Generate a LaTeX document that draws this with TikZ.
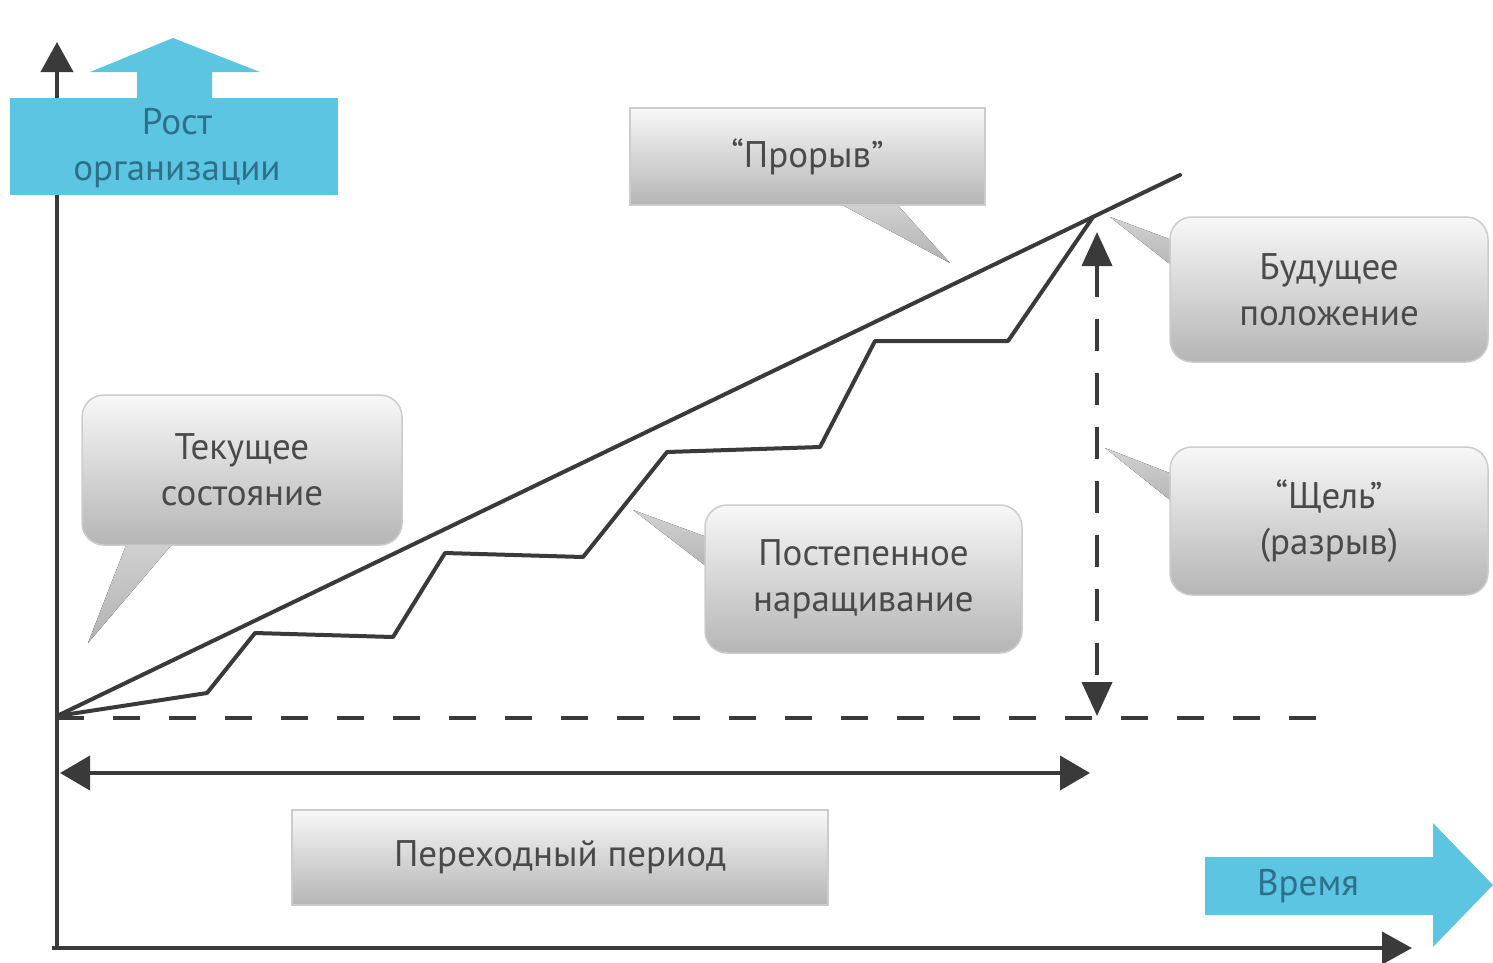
\documentclass[tikz,border=0pt]{standalone}
\usepackage{fontspec}
\setmainfont{PT Sans}
\usetikzlibrary{arrows.meta}
\definecolor{lineg}{HTML}{3A3A3A}
\definecolor{skyb}{HTML}{5CC6E2}
\definecolor{tealt}{HTML}{2E6F8C}
\definecolor{boxtxt}{HTML}{4A4A4A}
\tikzset{
  callbox/.style={draw=gray!40, line width=1.5pt, rounded corners=22pt, top color=gray!6, bottom color=gray!58,
    text=boxtxt, align=center, font=\fontsize{37}{46}\selectfont, inner sep=0pt},
  flatbox/.style={callbox, rounded corners=0pt},
  tailfill/.style={top color=gray!35, bottom color=gray!60, draw=none},
  axisline/.style={draw=lineg, line width=4pt, -{Triangle[length=30pt,width=32pt]}},
  trendline/.style={draw=lineg, line width=4pt, line join=round, line cap=round},
  dashln/.style={draw=lineg, line width=4pt, dash pattern=on 27pt off 29pt},
  vdashln/.style={draw=lineg, line width=4pt, dash pattern=on 32pt off 22pt},
  bluearr/.style={fill=skyb, draw=none},
  bluetxt/.style={text=tealt, align=center, font=\fontsize{37}{46}\selectfont, inner sep=0pt},
  dblarrow/.style={draw=lineg, line width=4pt, {Triangle[length=30pt,width=34pt]}-{Triangle[length=30pt,width=34pt]}}
}
\begin{document}
\begin{tikzpicture}[x=1pt,y=-1pt]
\useasboundingbox (0,0) rectangle (1493,962);

% axes
\coordinate (O) at (57,948);
\coordinate (ytop) at (57,42);
\coordinate (xend) at (1412,948);
\draw[axisline] (57,950) -- (ytop);
\draw[axisline] (52,948) -- (xend);

% blue "growth" arrow
\fill[bluearr] (137,100) -- (137,72) -- (90,72) -- (173,38) -- (260,72) -- (212,72) -- (212,100) -- cycle;
\node[bluearr, minimum width=328pt, minimum height=97pt, inner sep=0pt] (growthbox) at (174,146.5) {};
\node[bluetxt] (growthtxt) at (177,148) {Рост\\организации};

% blue "time" arrow
\fill[bluearr] (1205,857) -- (1433,857) -- (1433,823) -- (1493,885) -- (1433,947) -- (1433,915) -- (1205,915) -- cycle;
\node[bluetxt] (timetxt) at (1308,886) {Время};

% baseline dashed and the lines
\coordinate (start) at (57,716);
\coordinate (lineend) at (1180,175);
\coordinate (meet) at (1093,217);
\draw[dashln] (57,718) -- (1322,718);
\draw[trendline] (start) -- (lineend);
\draw[trendline] (start) -- (207,693) -- (255,633) -- (393,637) -- (445,553) -- (583,557) -- (667,452) -- (820,447) -- (875,341) -- (1008,341) -- (meet);

% gap arrow
\coordinate (gaptop) at (1097,232);
\coordinate (gapbot) at (1097,716);
\draw[vdashln, {Triangle[length=34pt,width=30pt]}-{Triangle[length=34pt,width=30pt]}] (gaptop) -- (gapbot);

% transition arrow
\coordinate (trl) at (60,773);
\coordinate (trr) at (1090,773);
\draw[dblarrow] (trl) -- (trr);

% callout tails
\fill[tailfill] (833,200) -- (950,263) -- (893,200) -- cycle;
\fill[tailfill] (1180,243) -- (1110,217) -- (1180,272) -- cycle;
\fill[tailfill] (1180,477) -- (1105,448) -- (1180,508) -- cycle;
\fill[tailfill] (130,535) -- (88,643) -- (180,535) -- cycle;
\fill[tailfill] (715,540) -- (633,510) -- (715,573) -- cycle;

% boxes
\node[flatbox, minimum width=355pt, minimum height=97pt] (breakthrough) at (807.5,156.5) {“Прорыв”};
\node[callbox, minimum width=318pt, minimum height=145pt] (future) at (1329,289.5) {Будущее\\положение};
\node[callbox, minimum width=318pt, minimum height=148pt] (gap) at (1329,521) {“Щель”\\(разрыв)};
\node[callbox, minimum width=320pt, minimum height=150pt] (current) at (242,470) {Текущее\\состояние};
\node[callbox, minimum width=317pt, minimum height=148pt] (gradual) at (863.5,579) {Постепенное\\наращивание};
\node[flatbox, minimum width=536pt, minimum height=95pt] (transition) at (560,857.5) {Переходный период};
\end{tikzpicture}
\end{document}
